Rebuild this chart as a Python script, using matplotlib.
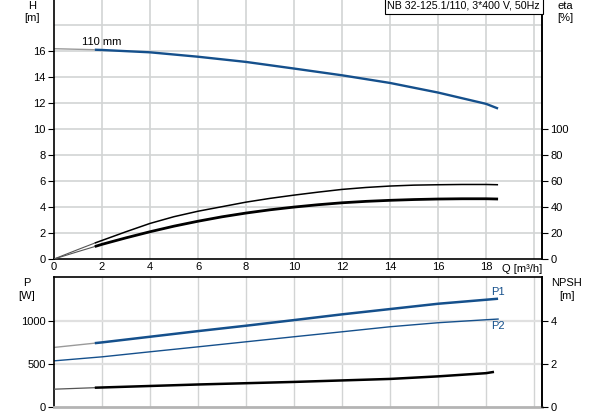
import matplotlib
matplotlib.use("Agg")
import matplotlib.pyplot as plt
import numpy as np

plt.rcParams['font.family'] = ['Liberation Sans', 'DejaVu Sans']
plt.rcParams['font.size'] = 8

# ---- data ----
q = [0, 1.7, 2, 4, 6, 8, 10, 12, 14, 16, 18, 18.5]
head = [16.2, 16.12, 16.1, 15.92, 15.58, 15.18, 14.67, 14.15, 13.56, 12.82, 11.95, 11.59]
p1 = [691, 741, 750, 816, 882, 945, 1011, 1078, 1140, 1202, 1249, 1261]
p2 = [534, 574, 581, 640, 698, 757, 816, 874, 933, 980, 1015, 1023]

q_eta = [0, 1, 1.7, 2, 3, 4, 5, 6, 7, 8, 9, 10, 11, 12, 13, 14, 15, 16, 17, 18, 18.5]
eta_pump = [0, 7.3, 12.3, 14.3, 21.0, 27.4, 32.6, 36.8, 40.3, 43.8, 46.7, 49.2,
            51.5, 53.6, 55.1, 56.2, 56.9, 57.2, 57.4, 57.4, 57.2]
eta_total = [0, 5.7, 9.6, 11.3, 16.3, 21.0, 25.3, 29.1, 32.5, 35.4, 37.9, 40.0,
             41.8, 43.3, 44.4, 45.2, 45.8, 46.2, 46.4, 46.4, 46.2]

q_npsh = [0, 1.7, 2, 4, 6, 8, 10, 12, 14, 16, 18, 18.33]
npsh = [0.81, 0.88, 0.89, 0.96, 1.03, 1.09, 1.15, 1.22, 1.29, 1.41, 1.56, 1.62]

x_ticks = [0, 2, 4, 6, 8, 10, 12, 14, 16, 18]
h_ticks = [0, 2, 4, 6, 8, 10, 12, 14, 16]
eta_ticks = [0, 20, 40, 60, 80, 100]
p_ticks = [0, 500, 1000]
npsh_ticks = [0, 2, 4]

title = "NB 32-125.1/110, 3*400 V, 50Hz"
curve_label = "110 mm"

BLUE = "#15508c"
GRID = "#d2d4d4"
GRAY = "#9a9a9a"
START = 1      # index in q / q_npsh where the thick (operating) part starts
START_ETA = 2  # index in q_eta where the thick part starts

fig = plt.figure(figsize=(5.93, 4.15), dpi=100)
L, R = 54 / 593, 542 / 593
ax = fig.add_axes([L, 1 - 259 / 415, R - L, 259 / 415])
axb = fig.add_axes([L, 1 - 406.5 / 415, R - L, (406.5 - 277) / 415])

XMAX = 20.33
# ---- top panel ----
ax.set_xlim(0, XMAX)
ax.set_ylim(0, 19.95)
for v in range(2, 21, 2):
    ax.axvline(v, color=GRID, lw=1.2, zorder=0)
for v in range(2, 20, 2):
    ax.axhline(v, color=GRID, lw=1.2, zorder=0)
ax.set_xticks(x_ticks)
ax.set_yticks(h_ticks)
ax.tick_params(axis='x', length=0, pad=2)
ax.tick_params(axis='y', length=4, width=0.8, pad=2)
ax.spines['top'].set_visible(False)
for s in ['left', 'bottom', 'right']:
    ax.spines[s].set_linewidth(1.2)

ax2 = ax.twinx()
ax2.set_ylim(0, 199.5)
ax2.set_yticks(eta_ticks)
ax2.tick_params(axis='y', length=4, width=0.8, pad=2)
for s in ['top', 'left', 'bottom']:
    ax2.spines[s].set_visible(False)
ax2.spines['right'].set_linewidth(1.2)

# H curve
ax.plot(q[:START + 1], head[:START + 1], color=GRAY, lw=1.0, solid_capstyle='butt')
ax.plot(q[START:], head[START:], color=BLUE, lw=1.7, solid_capstyle='butt')
ax.text(1.15, 16.3, curve_label, fontsize=8, va='bottom', ha='left')

# efficiency curves
ax2.plot(q_eta[:START_ETA + 1], eta_pump[:START_ETA + 1], color='#555555', lw=0.8)
ax2.plot(q_eta[START_ETA:], eta_pump[START_ETA:], color='black', lw=1.1, solid_capstyle='butt')
ax2.plot(q_eta[:START_ETA + 1], eta_total[:START_ETA + 1], color='#555555', lw=0.8)
ax2.plot(q_eta[START_ETA:], eta_total[START_ETA:], color='black', lw=2.0, solid_capstyle='butt')

# ---- bottom panel ----
axb.set_xlim(0, XMAX)
axb.set_ylim(0, 1515)
for v in range(2, 21, 2):
    axb.axvline(v, color=GRID, lw=1.0, zorder=0)
for v in [500, 1000]:
    axb.axhline(v, color='#e0e0e0', lw=1.6, zorder=0)
axb.set_xticks([])
axb.set_yticks(p_ticks)
axb.tick_params(axis='y', length=4, width=0.8, pad=2)
axb.spines['bottom'].set_color('#b4b4b4')
axb.spines['bottom'].set_linewidth(2.0)
for s in ['left', 'top', 'right']:
    axb.spines[s].set_linewidth(1.2)

axb2 = axb.twinx()
axb2.set_ylim(0, 1515 / 250)
axb2.set_yticks(npsh_ticks)
axb2.tick_params(axis='y', length=4, width=0.8, pad=2)
for s in ['top', 'left', 'bottom']:
    axb2.spines[s].set_visible(False)
axb2.spines['right'].set_linewidth(1.2)

axb.plot(q[:START + 1], p1[:START + 1], color=GRAY, lw=1.0)
axb.plot(q[START:], p1[START:], color=BLUE, lw=1.8, solid_capstyle='butt')
axb.plot(q, p2, color=BLUE, lw=1.0)
axb2.plot(q_npsh[:START + 1], npsh[:START + 1], color='#555555', lw=0.9)
axb2.plot(q_npsh[START:], npsh[START:], color='black', lw=1.8, solid_capstyle='butt')
axb.text(18.2, p1[-1] + 25, "P1", color=BLUE, fontsize=8, va='bottom', ha='left')
axb.text(18.2, p2[-1] - 25, "P2", color=BLUE, fontsize=8, va='top', ha='left')

# ---- axis titles ----
def ftxt(x, y, s, **kw):
    fig.text(x / 593, 1 - y / 415, s, fontsize=8, ha='center', va='center', **kw)

ftxt(32, 6, "H")
ftxt(32, 18, "[m]")
ftxt(565, 6, "eta")
ftxt(565, 18, "[%]")
ftxt(27, 283, "P")
ftxt(27, 296, "[W]")
ftxt(567, 283, "NPSH")
ftxt(567, 296, "[m]")
fig.text(502 / 593, 1 - 269 / 415, "Q [m³/h]", fontsize=8, ha='left', va='center')

fig.text(540 / 593, 1 - 6 / 415, title, fontsize=7.7, ha='right', va='center',
         bbox=dict(boxstyle='square,pad=0.25', fc='white', ec='black', lw=0.8))

fig.savefig("out.png", dpi=100)
